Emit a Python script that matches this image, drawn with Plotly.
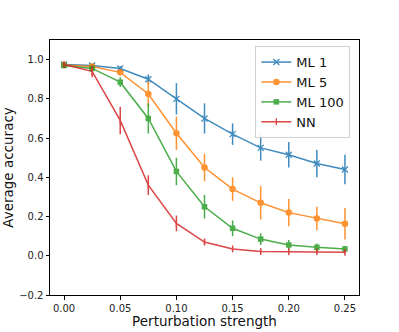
import plotly.graph_objects as go

strength = [0.0, 0.025, 0.05, 0.075, 0.1, 0.125, 0.15, 0.175, 0.2, 0.225, 0.25]

ml1 = [0.975, 0.97, 0.955, 0.90, 0.80, 0.70, 0.62, 0.55, 0.515, 0.47, 0.44]
ml1_err = [0.008, 0.008, 0.012, 0.025, 0.08, 0.077, 0.055, 0.065, 0.065, 0.07, 0.075]

ml5 = [0.972, 0.965, 0.935, 0.825, 0.625, 0.45, 0.34, 0.27, 0.22, 0.19, 0.163]
ml5_err = [0.008, 0.01, 0.015, 0.065, 0.085, 0.07, 0.06, 0.085, 0.07, 0.06, 0.08]

ml100 = [0.97, 0.955, 0.885, 0.70, 0.43, 0.25, 0.14, 0.085, 0.055, 0.043, 0.035]
ml100_err = [0.008, 0.01, 0.025, 0.077, 0.07, 0.06, 0.04, 0.03, 0.025, 0.02, 0.015]

nn = [0.975, 0.94, 0.69, 0.36, 0.165, 0.07, 0.035, 0.022, 0.02, 0.02, 0.018]
nn_err = [0.008, 0.03, 0.07, 0.05, 0.04, 0.015, 0.01, 0.01, 0.01, 0.01, 0.01]

series = [
    ("ML 1", ml1, ml1_err, "#1f77b4", dict(symbol="x-thin", size=6, line=dict(width=1.3, color="#1f77b4"))),
    ("ML 5", ml5, ml5_err, "#ff7f0e", dict(symbol="circle", size=6.5)),
    ("ML 100", ml100, ml100_err, "#2ca02c", dict(symbol="square", size=5.5)),
    ("NN", nn, nn_err, "#d62728", dict(symbol="line-ns", size=5, line=dict(width=1.3, color="#d62728"))),
]

fig = go.Figure()
for name, vals, errs, color, marker in series:
    fig.add_trace(go.Scatter(
        x=strength, y=vals, name=name, mode="lines+markers",
        line=dict(color=color, width=1.5),
        marker=dict(color=color, **marker),
        error_y=dict(type="data", array=errs, color=color, thickness=1.5, width=0),
        opacity=0.85,
    ))

axis_common = dict(
    showline=True, linecolor="black", linewidth=1, mirror=True,
    ticks="outside", ticklen=3.5, tickcolor="black",
    showgrid=False, zeroline=False, automargin=False,
    tickfont=dict(size=10, color="#222"),
)

fig.update_layout(
    width=399, height=332,
    margin=dict(l=50, r=40, t=40, b=37),
    paper_bgcolor="white", plot_bgcolor="white",
    font=dict(family="DejaVu Sans", color="#111"),
    xaxis=dict(range=[-0.0125, 0.2625], tickvals=[0, 0.05, 0.1, 0.15, 0.2, 0.25],
               tickformat=".2f", title=dict(text="Perturbation strength", font=dict(size=13.5), standoff=2),
               **axis_common),
    yaxis=dict(range=[-0.2, 1.1], tickvals=[-0.2, 0, 0.2, 0.4, 0.6, 0.8, 1.0],
               tickformat=".1f", title=dict(text="Average accuracy", font=dict(size=13.5), standoff=12),
               **axis_common),
    legend=dict(x=0.972, y=0.976, xanchor="right", yanchor="top",
                bgcolor="rgba(255,255,255,0.8)", bordercolor="#d0d0d0", borderwidth=1,
                font=dict(size=13), tracegroupgap=0, itemwidth=30),
    showlegend=True,
)

# the page's default body margin would push the chart out of the window
fig.write_html("out.html", config={"displayModeBar": False},
               post_script="document.body.style.margin='0';")
